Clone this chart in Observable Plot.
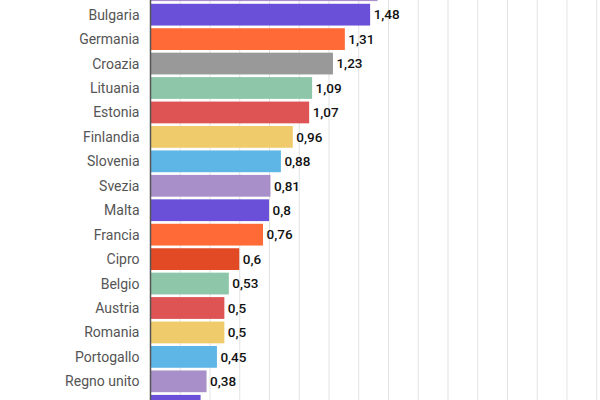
<!DOCTYPE html>
<html><head><meta charset="utf-8">
<script src="https://cdn.jsdelivr.net/npm/d3@7"></script>
<script src="https://cdn.jsdelivr.net/npm/@observablehq/plot@0.6"></script>
<style>
html,body{margin:0;padding:0;background:#fff;overflow:hidden;width:600px;height:400px}
#chart svg{display:block;margin-top:-22.5px}
</style>
</head><body><div id="chart"></div>
<script>
const countries = ["", "Bulgaria","Germania","Croazia","Lituania","Estonia","Finlandia","Slovenia","Svezia","Malta","Francia","Cipro","Belgio","Austria","Romania","Portogallo","Regno unito","Italia"];
const values = [1.53, 1.48,1.31,1.23,1.09,1.07,0.96,0.88,0.81,0.8,0.76,0.6,0.53,0.5,0.5,0.45,0.38,0.34];
const colors = ["#a88fc9","#6a4fd8","#ff6a37","#999999","#8dc6a8","#de5353","#efcb6b","#5db6e6","#a88fc9","#6a4fd8","#ff6a37","#e24a26","#8dc6a8","#de5353","#efcb6b","#5db6e6","#a88fc9","#6a4fd8"];
const gridTicks = [0.2,0.4,0.6,0.8,1.0,1.2,1.4,1.6,1.8,2.0,2.2,2.4,2.6,2.8,3.0];

const data = countries.map((c,i)=>({name:c, value:values[i], color:colors[i]}));
const fmt = v => String(v).replace(".", ",");
const visible = data.filter(d => d.name !== "");

const chart = Plot.plot({
  width: 600,
  height: 440,
  marginTop: 0,
  marginBottom: 0,
  marginLeft: 150,
  marginRight: 0,
  style: {fontFamily: "Roboto, sans-serif", fontSize: "14px", background: "#fff"},
  x: {domain: [0, 3.0255], axis: null},
  y: {domain: countries, axis: null, paddingInner: 0.11, paddingOuter: 0.055, round: false},
  marks: [
    Plot.ruleX(gridTicks, {stroke: "#e2e2e2", strokeWidth: 1}),
    Plot.barX(data, {y: "name", x: "value", fill: "color"}),
    Plot.ruleX([0], {stroke: "#555", strokeWidth: 1.5}),
    Plot.text(visible, {y: "name", x: 0, text: "name", textAnchor: "end", dx: -11, fill: "#555", fontSize: 14}),
    Plot.text(visible, {y: "name", x: "value", text: d => fmt(d.value), textAnchor: "start", dx: 3, fill: "#111", fontSize: 13.5, fontWeight: 500})
  ]
});
document.getElementById("chart").appendChild(chart);
</script>
</body></html>
